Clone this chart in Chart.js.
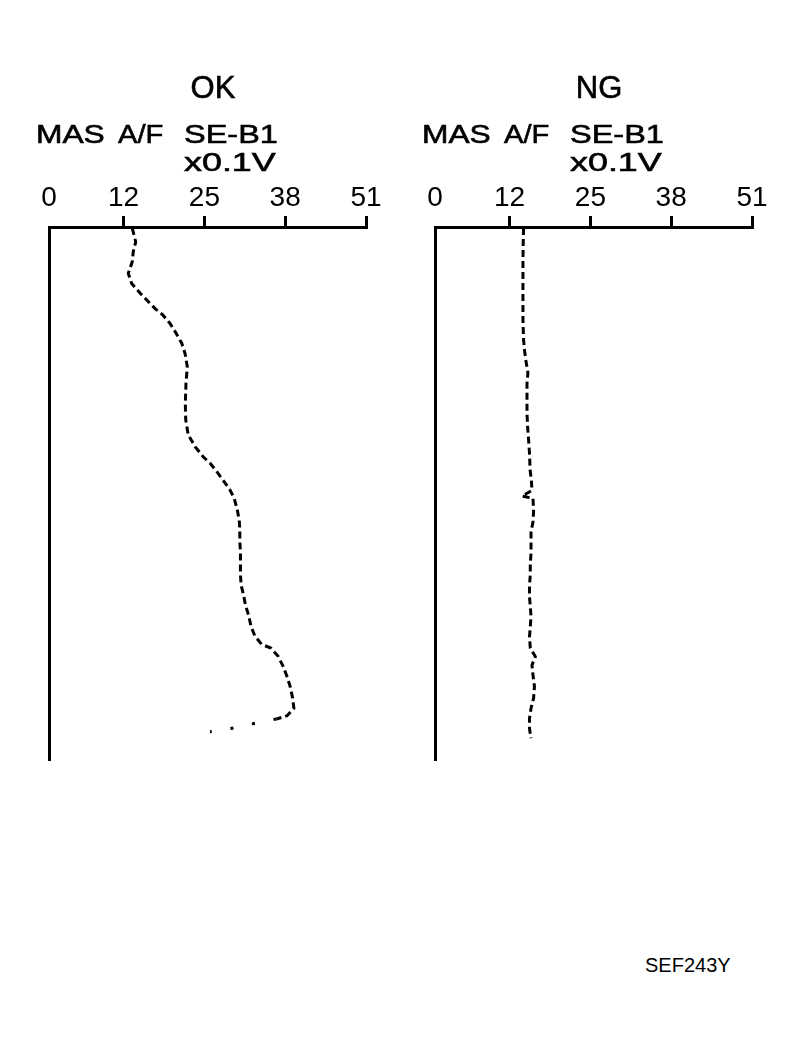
<!DOCTYPE html>
<html>
<head>
<meta charset="utf-8">
<script src="https://cdn.jsdelivr.net/npm/chart.js@4.4.1/dist/chart.umd.min.js"></script>
<style>
  html, body { margin: 0; padding: 0; background: #fff; }
  body { width: 797px; height: 1046px; position: relative; overflow: hidden; }
  canvas { position: absolute; top: 0; }
  #okChart { left: 0; }
  #ngChart { left: 386px; }
  #figCode { position: absolute; left: 645px; top: 953px; font: 20px/24px 'Liberation Sans', Arial, sans-serif; color: #000; }
</style>
</head>
<body>
<canvas id="okChart" width="400" height="800"></canvas>
<canvas id="ngChart" width="400" height="800"></canvas>
<div id="figCode">SEF243Y</div>
<script>
const FONT = "'Liberation Sans', Arial, sans-serif";

// axis
const xTicks = [0, 12, 25, 38, 51];
const xTickLabels = ['0', '12', '25', '38', '51'];
const headerWords = ['MAS', 'A/F', 'SE-B1'];
const unitLabel = 'x0.1V';

// OK trace: MAS A/F SE-B1 (x0.1V) against time (top = 0, bottom = 100)
const okVolt = [13.4, 13.95, 13.56, 13.4, 12.76, 13.3, 14.64, 15.98, 17.06, 18.3, 19.47, 20.43,
  21.35, 21.88, 22.25, 22.04, 21.93, 22.0, 22.4, 23.5, 24.8, 25.9, 27.0, 28.0, 29.1, 29.8,
  30.3, 30.6, 30.7, 30.7, 30.8, 30.8, 30.8, 30.9, 31.3, 31.6, 32.1, 32.5, 33.1, 34.2, 35.7,
  36.9, 37.7, 38.3, 38.8, 39.2, 39.4, 38.3, 36.6, 32.8, 29.2, 25.9];
const okTime = [0.2, 2.8, 4.6, 6.5, 8.7, 10.6, 12.4, 14.0, 15.3, 16.5, 18.1, 19.9,
  21.8, 23.7, 26.2, 29.3, 33.1, 36.2, 39.0, 41.2, 43.1, 44.3, 45.9, 47.5, 49.3, 50.9,
  53.1, 55.0, 56.8, 59.0, 60.9, 62.8, 65.0, 67.2, 69.0, 70.9, 72.8, 74.9, 76.7, 78.3, 79.0,
  80.6, 82.5, 84.4, 86.2, 88.4, 90.3, 91.7, 92.3, 93.2, 94.1, 94.7];

// NG trace
const ngVolt = [14.25, 14.2, 14.15, 14.15, 14.15, 14.15, 14.25, 14.4, 14.6, 14.95, 14.8, 14.8,
  14.8, 14.9, 15.06, 15.2, 15.3, 15.5, 15.6, 14.0, 15.77, 15.86, 15.77, 15.45, 15.45, 15.45,
  15.33, 15.33, 15.2, 15.2, 15.33, 15.45, 15.33, 15.2, 15.33, 16.14, 15.6, 15.77, 16.0, 15.86,
  15.45, 15.2, 15.2, 15.45];
const ngTime = [0.2, 2.4, 6.2, 9.9, 13.7, 17.4, 21.2, 23.1, 24.9, 27.4, 29.3, 33.0,
  34.9, 37.5, 40.0, 42.4, 45.6, 47.5, 49.4, 50.5, 50.9, 53.4, 55.3, 57.2, 59.0, 61.2,
  63.1, 65.3, 67.2, 69.4, 71.2, 73.1, 75.0, 76.9, 79.0, 80.6, 82.2, 84.1, 86.2, 88.4,
  90.3, 92.2, 94.1, 95.9];

// draws panel name and the channel header above the axis
const headerText = {
    id: 'headerText',
    afterDraw(chart, args, opts) {
        const {ctx, chartArea} = chart;
        const left = chartArea.left;
        ctx.save();
        ctx.fillStyle = '#000';
        ctx.strokeStyle = '#000';
        ctx.lineWidth = 0.6;
        ctx.textBaseline = 'alphabetic';
        ctx.font = '31px ' + FONT;
        ctx.textAlign = 'center';
        ctx.fillText(opts.title, left + 164, 98);
        ctx.strokeText(opts.title, left + 164, 98);
        ctx.textAlign = 'left';
        ctx.font = '26px ' + FONT;
        const items = [
            [headerWords[0], -13, 143, 1.22],
            [headerWords[1], 69, 143, 1.12],
            [headerWords[2], 135, 143, 1.25],
            [unitLabel, 135, 171, 1.38]
        ];
        items.forEach(([txt, dx, y, sx]) => {
            ctx.save();
            ctx.translate(left + dx, y);
            ctx.scale(sx, 1);
            ctx.fillText(txt, 0, 0);
            ctx.strokeText(txt, 0, 0);
            ctx.restore();
        });
        ctx.restore();
    }
};

function makeChart(id, title, volts, times, dottedFrom) {
    return new Chart(document.getElementById(id), {
        type: 'line',
        data: {
            datasets: [{
                data: volts.map((v, i) => ({x: v, y: times[i]})),
                borderColor: '#000',
                borderWidth: 3,
                borderDash: [7, 4],
                borderCapStyle: 'butt',
                pointRadius: 0,
                tension: 0,
                fill: false,
                segment: {
                    borderDash: c => c.p0DataIndex >= dottedFrom ? [3, 19] : undefined
                }
            }]
        },
        options: {
            responsive: false,
            animation: false,
            layout: {padding: {left: 49, top: 177, right: 34, bottom: 40}},
            plugins: {
                legend: {display: false},
                tooltip: {enabled: false},
                headerText: {title: title}
            },
            scales: {
                x: {
                    type: 'linear',
                    position: 'top',
                    min: 0,
                    max: 51,
                    afterBuildTicks: s => { s.ticks = xTicks.map(v => ({value: v})); },
                    afterFit: s => { s.height = 50; },
                    ticks: {
                        autoSkip: false,
                        maxRotation: 0,
                        padding: 1,
                        color: '#000',
                        font: {family: FONT, size: 28},
                        callback: (v, i) => xTickLabels[i]
                    },
                    grid: {
                        drawOnChartArea: false,
                        tickLength: 11,
                        lineWidth: 3,
                        color: c => c.index === 0 ? 'rgba(0,0,0,0)' : '#000'
                    },
                    border: {display: true, color: '#000', width: 3}
                },
                y: {
                    type: 'linear',
                    min: 0,
                    max: 100,
                    reverse: true,
                    afterFit: s => { s.width = 0; },
                    ticks: {display: false},
                    grid: {drawOnChartArea: false, drawTicks: false},
                    border: {display: true, color: '#000', width: 3}
                }
            }
        },
        plugins: [headerText]
    });
}

makeChart('okChart', 'OK', okVolt, okTime, 48);
makeChart('ngChart', 'NG', ngVolt, ngTime, Infinity);
</script>
</body>
</html>
